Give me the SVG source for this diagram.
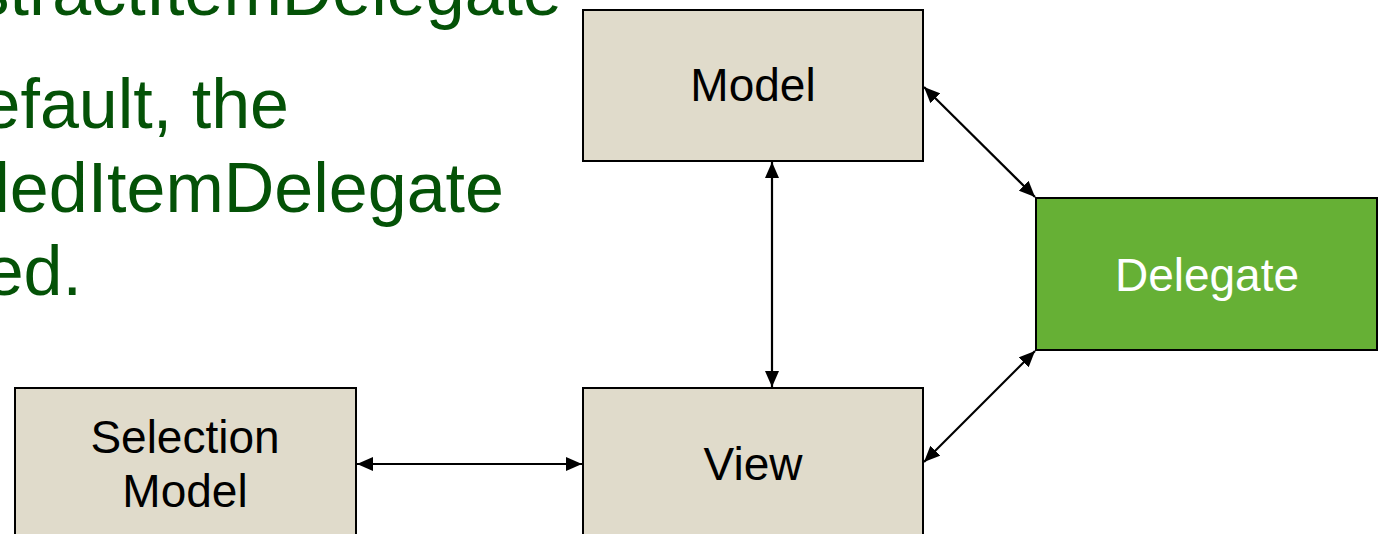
<svg xmlns="http://www.w3.org/2000/svg" width="1380" height="534" viewBox="0 0 1380 534">
  <style>
    .box { fill: #e0dbcb; stroke: #000; stroke-width: 2; }
    .green { fill: #66b035; stroke: #000; stroke-width: 2; }
    .lbl { font-family: "Liberation Sans", Arial, sans-serif; font-size: 46px; fill: #000; text-anchor: middle; }
    .lbl-w { fill: #fff; }
    .body { font-family: "Liberation Sans", Arial, sans-serif; font-size: 70px; fill: #045207; text-anchor: end; }
    .conn { stroke: #000; stroke-width: 2.2; fill: none; marker-start: url(#arr); marker-end: url(#arr); }
  </style>
  <defs>
    <marker id="arr" viewBox="0 0 16 14" refX="16" refY="7" markerWidth="16" markerHeight="14" markerUnits="userSpaceOnUse" orient="auto-start-reverse">
      <path d="M0,0 L16,7 L0,14 Z" fill="#000"/>
    </marker>
  </defs>

  <!-- bullet text, clipped at the left and top edges -->
  <g id="body-text">
    <text class="body" x="562" y="15">stractItemDelegate</text>
    <text class="body" x="289" y="128">efault, the</text>
    <text class="body" x="504" y="212">ledItemDelegate</text>
    <text class="body" x="82" y="295">ed.</text>
  </g>

  <!-- connectors -->
  <g id="connectors">
    <line class="conn" x1="772" y1="162" x2="772" y2="387"/>
    <line class="conn" x1="357" y1="464" x2="582" y2="464"/>
    <line class="conn" x1="924" y1="87" x2="1035" y2="197"/>
    <line class="conn" x1="1035" y1="351" x2="924" y2="462"/>
  </g>

  <g id="model">
    <rect class="box" x="583" y="10" width="340" height="151"/>
    <text class="lbl" x="753" y="101">Model</text>
  </g>

  <g id="delegate">
    <rect class="green" x="1036" y="198" width="341" height="152"/>
    <text class="lbl lbl-w" x="1207" y="291">Delegate</text>
  </g>

  <g id="view">
    <rect class="box" x="583" y="388" width="340" height="160"/>
    <text class="lbl" x="753" y="480">View</text>
  </g>

  <g id="selection-model">
    <rect class="box" x="15" y="388" width="341" height="160"/>
    <text class="lbl" x="185" y="453">Selection</text>
    <text class="lbl" x="185" y="507">Model</text>
  </g>
</svg>
